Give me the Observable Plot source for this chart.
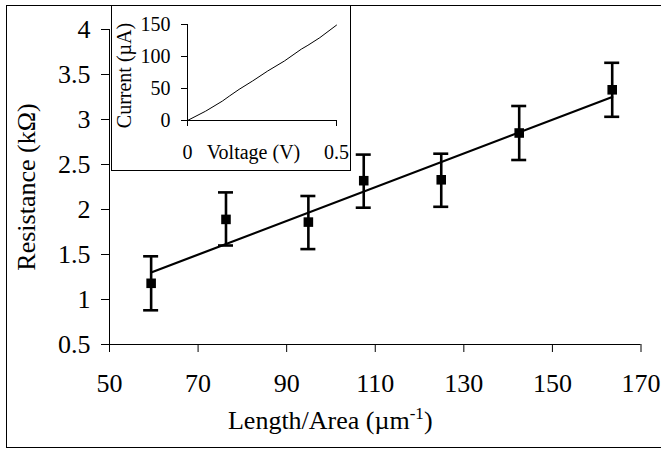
<!DOCTYPE html>
<html><head><meta charset="utf-8">
<script src="https://cdn.jsdelivr.net/npm/d3@7"></script>
<script src="https://cdn.jsdelivr.net/npm/@observablehq/plot@0.6"></script>
<style>
body{margin:0;background:#fff;}
#wrap{position:relative;width:661px;height:451px;overflow:hidden;background:#fff;}
#main{position:absolute;left:0;top:0;}
#main svg{display:block;}
#frame{position:absolute;left:6px;top:5px;width:700px;height:443px;border:1.5px solid #000;box-sizing:border-box;pointer-events:none;}
#inset{position:absolute;left:111px;top:5px;}
#inset svg{display:block;background:#fff;outline:1.3px solid #000;outline-offset:-1.3px;}
svg text, svg tspan{font-family:'Liberation Serif','Times New Roman',serif !important;}
</style></head>
<body><div id="wrap"><div id="main"></div><div id="inset"></div><div id="frame"></div></div>
<script>
// Main chart data
const lengthPerArea = [59.4, 76.3, 94.9, 107.4, 124.9, 142.5, 163.5];
const resistance    = [1.18, 1.89, 1.86, 2.32, 2.33, 2.85, 3.33];
const resLow        = [0.88, 1.60, 1.56, 2.02, 2.03, 2.55, 3.03];
const resHigh       = [1.48, 2.19, 2.15, 2.61, 2.62, 3.15, 3.63];
const fitX = [59.4, 163.5];
const fitY = [1.30, 3.25];
const xTicks = [50, 70, 90, 110, 130, 150, 170];
const yTicks = [0.5, 1, 1.5, 2, 2.5, 3, 3.5, 4];
const xTitle = "Length/Area (µm-1)";
const yTitle = "Resistance (kΩ)";

// Inset data
const voltage = [0, 0.061, 0.117, 0.14, 0.173, 0.218, 0.269, 0.325, 0.382, 0.404, 0.444, 0.5];
const current = [0, 14.6, 30.3, 38, 48.6, 61.6, 77.3, 92.9, 111.5, 117.5, 129.4, 149];
const vTicks = [0, 0.5];
const iTicks = [0, 50, 100, 150];
const vTitle = "Voltage (V)";
const iTitle = "Current (µA)";

const serif = "'Liberation Serif', 'Times New Roman', serif";

const pts = lengthPerArea.map((x, i) => ({x, r: resistance[i], lo: resLow[i], hi: resHigh[i]}));
const fit = fitX.map((x, i) => ({x, y: fitY[i]}));

const main = Plot.plot({
  width: 661, height: 451,
  marginLeft: 109, marginRight: 20.5, marginTop: 29, marginBottom: 107,
  style: {fontFamily: serif, fontSize: "26px", color: "#000", background: "transparent"},
  x: {domain: [50, 170]},
  y: {domain: [0.5, 4]},
  marks: [
    Plot.ruleX([50], {stroke: "#000", strokeWidth: 1}),
    Plot.ruleY([0.5], {stroke: "#000", strokeWidth: 1}),
    Plot.axisX({ticks: xTicks, tickSize: 8, tickPadding: 21.5, tickFormat: d => String(d), label: null,
                fontSize: 26, fontVariant: "normal"}),
    Plot.axisY({ticks: yTicks, tickSize: 8, tickPadding: 11, tickFormat: d => String(d), label: null,
                fontSize: 26, fontVariant: "normal"}),
    Plot.line(fit, {x: "x", y: "y", stroke: "#000", strokeWidth: 2.2}),
    Plot.ruleX(pts, {x: "x", y1: "lo", y2: "hi", stroke: "#000", strokeWidth: 2.6}),
    Plot.ruleY(pts, {y: "hi", x1: "x", x2: "x", insetLeft: -7.5, insetRight: -7.5, stroke: "#000", strokeWidth: 2.6}),
    Plot.ruleY(pts, {y: "lo", x1: "x", x2: "x", insetLeft: -7.5, insetRight: -7.5, stroke: "#000", strokeWidth: 2.6}),
    Plot.dot(pts, {x: "x", y: "r", symbol: "square", r: 5.4, fill: "#000"}),
    Plot.text([xTitle], {text: d => d, frameAnchor: "bottom", textAnchor: "middle", dx: -45, dy: 76, lineAnchor: "middle", fontSize: 26}),
    Plot.text([yTitle], {text: d => d, frameAnchor: "left", textAnchor: "middle", rotate: -90, dx: -83, lineAnchor: "middle", fontSize: 26})
  ]
});
document.getElementById("main").appendChild(main);

// superscript in x title
d3.select(main).selectAll("text").filter(function() { return this.textContent === xTitle; })
  .each(function() {
    const t = d3.select(this);
    t.text(null);
    t.append("tspan").text("Length/Area (µm");
    t.append("tspan").attr("dy", -10).attr("font-size", "17px").text("-1");
    t.append("tspan").attr("dy", 10).text(")");
  });

const iv = voltage.map((v, i) => ({v, c: current[i]}));
const inset = Plot.plot({
  width: 240, height: 166,
  marginLeft: 76, marginRight: 15, marginTop: 19, marginBottom: 51,
  style: {fontFamily: serif, fontSize: "20px", color: "#000", background: "#fff"},
  x: {domain: [0, 0.5]},
  y: {domain: [0, 150]},
  marks: [
    Plot.ruleX([0], {stroke: "#000", strokeWidth: 1}),
    Plot.ruleY([0], {stroke: "#000", strokeWidth: 1}),
    Plot.axisX({ticks: vTicks, tickSize: 6, tickPadding: 18, tickFormat: d => String(d), label: null,
                fontSize: 20, fontVariant: "normal"}),
    Plot.axisY({ticks: iTicks, tickSize: 6, tickPadding: 11, tickFormat: d => String(d), label: null,
                fontSize: 20, fontVariant: "normal"}),
    Plot.line(iv, {x: "v", y: "c", stroke: "#000", strokeWidth: 1}),
    Plot.text([vTitle], {text: d => d, frameAnchor: "bottom", textAnchor: "middle", dx: -8.5, dy: 32, lineAnchor: "middle", fontSize: 20}),
    Plot.text([iTitle], {text: d => d, frameAnchor: "left", textAnchor: "middle", rotate: -90, dx: -63, dy: 3, lineAnchor: "middle", fontSize: 20})
  ]
});
document.getElementById("inset").appendChild(inset);
</script>
</body></html>
